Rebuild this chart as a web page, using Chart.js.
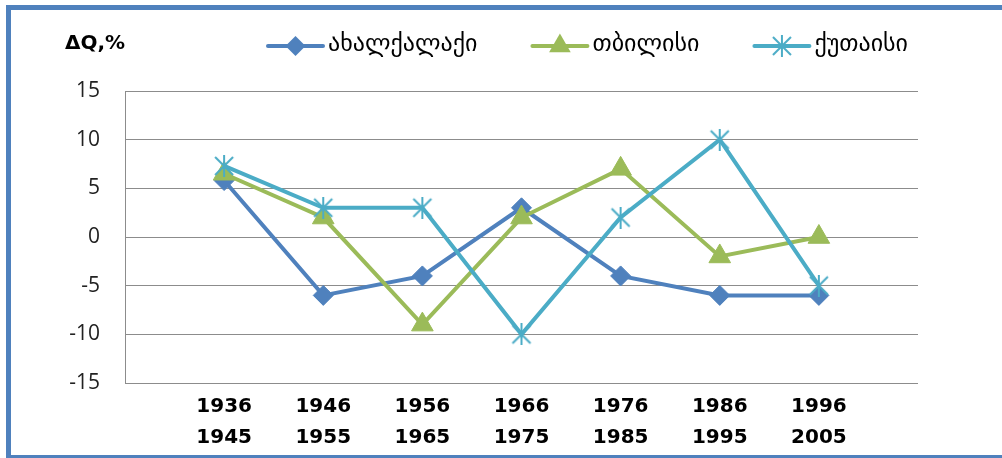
<!DOCTYPE html>
<html>
<head>
<meta charset="utf-8">
<script src="https://cdn.jsdelivr.net/npm/chart.js"></script>
<style>
  html, body { margin: 0; padding: 0; background: #fff; overflow: hidden; }
  #wrap { position: relative; width: 1002px; height: 458px; overflow: hidden; }
  #chart { position: absolute; left: 0; top: 0; }
  #frame {
    position: absolute; left: 6px; top: 5px; width: 996px; height: 455px;
    border: 5px solid #4f81bd; border-right: none;
    box-sizing: border-box; pointer-events: none;
  }
</style>
</head>
<body>
<div id="wrap">
  <canvas id="chart" width="1002" height="458"></canvas>
  <div id="frame"></div>
</div>
<script>
// decades on the x axis (two-line labels)
const periodStart = ['1936', '1946', '1956', '1966', '1976', '1986', '1996'];
const periodEnd   = ['1945', '1955', '1965', '1975', '1985', '1995', '2005'];

const cityNames = ['ახალქალაქი', 'თბილისი', 'ქუთაისი'];

// ΔQ, % per decade
const akhalkalaki = [5.8, -6, -4, 3, -4, -6, -6];
const tbilisi     = [6.5, 2, -9, 2, 7, -2, 0];
const kutaisi     = [7.3, 3, 3, -10, 2, 10, -5];

const yMin = -15, yMax = 15, yStep = 5;
const yTitle = 'ΔQ,%';

const BLUE = '#4f81bd', GREEN = '#9bbb59', CYAN = '#4bacc6';

// empty slot on both ends, like the original sheet layout
const pad = arr => [null, ...arr, null];
const labels = ['', ...periodStart.map((s, i) => [s, periodEnd[i]]), ''];

// asterisk marker (X plus vertical stroke)
function starImage(color) {
  const c = document.createElement('canvas');
  c.width = 22; c.height = 22;
  const g = c.getContext('2d');
  g.strokeStyle = color;
  g.lineWidth = 2;
  g.beginPath();
  g.moveTo(2, 2); g.lineTo(20, 20);
  g.moveTo(20, 2); g.lineTo(2, 20);
  g.moveTo(11, 0); g.lineTo(11, 22);
  g.stroke();
  return c;
}

function drawMarker(ctx, ds, x, y) {
  const s = ds.pointStyle, r = ds.pointRadius;
  if (s instanceof HTMLCanvasElement) {
    ctx.drawImage(s, x - s.width / 2, y - s.height / 2);
    return;
  }
  ctx.fillStyle = ds.pointBackgroundColor;
  ctx.beginPath();
  if (s === 'rectRot') {
    ctx.moveTo(x - r, y); ctx.lineTo(x, y - r);
    ctx.lineTo(x + r, y); ctx.lineTo(x, y + r);
  } else if (s === 'triangle') {
    ctx.moveTo(x, y - r);
    ctx.lineTo(x + r * 0.866, y + r * 0.5);
    ctx.lineTo(x - r * 0.866, y + r * 0.5);
  }
  ctx.closePath();
  ctx.fill();
}

// axis caption + line/marker legend across the top
const header = {
  id: 'header',
  afterDraw(chart) {
    const ctx = chart.ctx;
    ctx.save();
    ctx.textBaseline = 'middle';
    ctx.fillStyle = '#000';
    ctx.font = 'bold 20px "DejaVu Sans"';
    ctx.fillText(yTitle, 65, 44);

    ctx.font = '24px "DejaVu Sans"';
    let x = 268;
    const y = 46;
    chart.data.datasets.forEach(ds => {
      ctx.strokeStyle = ds.borderColor;
      ctx.lineWidth = ds.borderWidth;
      ctx.lineCap = 'round';
      ctx.beginPath();
      ctx.moveTo(x, y);
      ctx.lineTo(x + 55, y);
      ctx.stroke();
      drawMarker(ctx, ds, x + 27.5, y);
      ctx.fillStyle = '#000';
      ctx.fillText(ds.label, x + 60, y - 1);
      x += 60 + ctx.measureText(ds.label).width + 55;
    });
    ctx.restore();
  }
};

new Chart(document.getElementById('chart'), {
  type: 'line',
  data: {
    labels: labels,
    datasets: [
      {
        label: cityNames[0], data: pad(akhalkalaki), order: 3,
        borderColor: BLUE, backgroundColor: BLUE, borderWidth: 4,
        pointStyle: 'rectRot', pointRadius: 10,
        pointBackgroundColor: BLUE, pointBorderColor: BLUE, pointBorderWidth: 1
      },
      {
        label: cityNames[1], data: pad(tbilisi), order: 2,
        borderColor: GREEN, backgroundColor: GREEN, borderWidth: 4,
        pointStyle: 'triangle', pointRadius: 12.5,
        pointBackgroundColor: GREEN, pointBorderColor: GREEN, pointBorderWidth: 1
      },
      {
        label: cityNames[2], data: pad(kutaisi), order: 1,
        borderColor: CYAN, backgroundColor: CYAN, borderWidth: 4,
        pointStyle: starImage(CYAN), pointRadius: 11,
        pointBackgroundColor: CYAN, pointBorderColor: CYAN
      }
    ]
  },
  options: {
    responsive: false,
    animation: false,
    events: [],
    layout: { padding: { top: 91, right: 84, bottom: 0, left: 0 } },
    plugins: {
      legend: { display: false },
      tooltip: { enabled: false }
    },
    elements: { line: { tension: 0 } },
    scales: {
      x: {
        type: 'category',
        offset: false,
        grid: { display: false, drawTicks: false },
        border: { display: false },
        ticks: {
          autoSkip: false, maxRotation: 0, padding: 8, color: '#000',
          font: { family: '"DejaVu Sans"', size: 20, weight: 'bold', lineHeight: '31px' }
        },
        afterFit(scale) { scale.height = 75; }
      },
      y: {
        min: yMin, max: yMax,
        grid: { color: '#8c8c8c', lineWidth: 1, drawTicks: false },
        border: { display: true, color: '#8c8c8c', width: 1 },
        ticks: {
          stepSize: yStep, padding: 25, color: '#222',
          font: { family: '"Open Sans"', size: 21 }
        },
        afterFit(scale) { scale.width = 125; }
      }
    }
  },
  plugins: [header]
});
</script>
</body>
</html>
